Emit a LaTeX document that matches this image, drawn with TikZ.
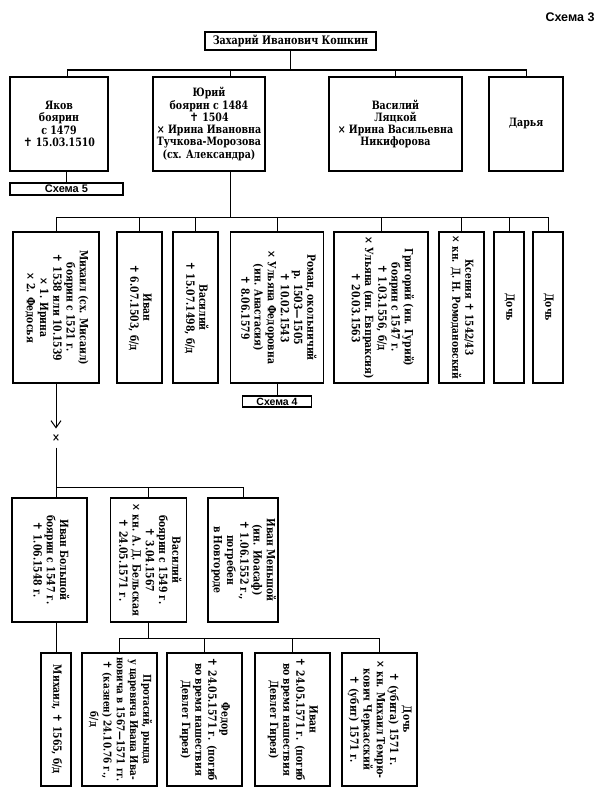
\documentclass[tikz,border=0pt]{standalone}
\usepackage{graphicx}
\usepackage{fontspec}
\setmainfont{DejaVu Serif}[FakeStretch=0.82]
\newfontfamily\sansfnt{Liberation Sans}
\newfontfamily\symfnt{DejaVu Sans}
\usetikzlibrary{
    arrows.meta
}

\newcommand{\bodyfont}{\fontsize{11.5}{12.3}\selectfont\bfseries}
\newcommand{\rootfont}{\fontsize{11.7}{14}\selectfont\bfseries}
\newcommand{\schfont}{\sansfnt\fontsize{11}{12}\selectfont\bfseries}
\newcommand{\dd}{{\symfnt\mdseries ✝}}
\newcommand{\vt}[2][11.3]{\rotatebox{-90}{\fontsize{#1}{13.2}\selectfont
    \begin{tabular}{@{}c@{}}#2\end{tabular}}}

\begin{document}
\begin{tikzpicture}[x=1pt,y=-1pt,line width=1pt,
    box/.style={draw,line width=1.3pt,inner sep=1pt,align=center,font=\bodyfont},
    ref/.style={draw,line width=1.3pt,inner sep=0pt,font=\schfont}]

\useasboundingbox (0,0) rectangle (599,800);

\node[font=\schfont\fontsize{12.5}{14}\selectfont] (title) at (570,17) {Схема 3};
\node[box,font=\rootfont,inner sep=0pt,minimum width=171,minimum height=18]
    (root) at (290.5,41) {Захарий Иванович Кошкин};

% Sons and daughter
\node[box,minimum width=98,minimum height=94] (yakov) at (59,124)
    {Яков\\боярин\\с 1479\\\dd~15.03.1510};
\node[box,minimum width=112,minimum height=94] (yuri) at (209,124)
    {Юрий\\боярин с 1484\\\dd~1504\\× Ирина Ивановна\\Тучкова-Морозова\\(сх. Александра)};
\node[box,minimum width=133,minimum height=94] (lyatskoy) at (395.5,124)
    {Василий\\Ляцкой\\× Ирина Васильевна\\Никифорова};
\node[box,minimum width=74,minimum height=94] (darya) at (526,124) {Дарья};
\node[ref,minimum width=113,minimum height=12] (sch5) at (66.5,189) {Схема 5};

\coordinate (bus1) at (0,70);
\draw (root.south) -- (root.south |- bus1);
\draw ([xshift=8]yakov.north) |- (darya.north |- bus1) -- (darya.north);
\draw ([xshift=21]yuri.north) -- ([xshift=21]yuri.north |- bus1);
\draw (lyatskoy.north) -- (lyatskoy.north |- bus1);
\draw (sch5.north) -- (sch5.north |- yakov.south);

% Children of Yuri
\node[box,minimum width=86,minimum height=151] (mikhail) at (56,307.5)
    {\vt{Михаил (сх. Мисаил)\\боярин с 1521 г.\\\dd~1538 или 10.1539\\× 1. Ирина\\× 2. Федосья}};
\node[box,minimum width=45,minimum height=151] (ivan) at (139.5,307.5)
    {\vt{Иван\\\dd~6.07.1503, б/д}};
\node[box,minimum width=45,minimum height=151] (vasily) at (195.5,307.5)
    {\vt{Василий\\\dd~15.07.1498, б/д}};
\node[box,minimum width=93,minimum height=151] (roman) at (277,307.5)
    {\vt{Роман, окольничий\\р. 1503---1505\\\dd~10.02.1543\\× Ульяна Федоровна\\(ин. Анастасия)\\\dd~8.06.1579}};
\node[box,minimum width=94,minimum height=151] (grigory) at (381,307.5)
    {\vt{Григорий (ин. Гурий)\\боярин с 1547 г.\\\dd~1.03.1556, б/д\\× Ульяна (ин. Евпраксия)\\\dd~20.03.1563}};
\node[box,minimum width=45,minimum height=151] (kseniya) at (461.5,307.5)
    {\vt[11]{Ксения \dd~1542/43\\× кн. Д. Н. Ромодановский}};
\node[box,minimum width=30,minimum height=151] (doch1) at (509,307.5) {\vt{Дочь}};
\node[box,minimum width=30,minimum height=151] (doch2) at (548,307.5) {\vt{Дочь}};
\node[ref,minimum width=69,minimum height=11,font=\schfont\fontsize{10.5}{12}\selectfont]
    (sch4) at (277,401.5) {Схема 4};

\coordinate (bus2) at (0,217);
\draw ([xshift=21]yuri.south) -- ([xshift=21]yuri.south |- bus2);
\draw (mikhail.north) |- (doch2.north |- bus2) -- (doch2.north);
\foreach \n in {ivan,vasily,roman,grigory,kseniya,doch1}{
    \draw (\n.north) -- (\n.north |- bus2);
}
\draw (roman.south) -- (sch4.north);

% Children of Mikhail
\node[font=\bodyfont,inner sep=0pt,minimum height=18] (wed) at (56,438) {×};
\draw[-{Straight Barb[length=7pt,width=10pt]}] (mikhail.south) -- (wed.north);

\node[box,minimum width=75,minimum height=124] (ivanb) at (49.5,560)
    {\vt{Иван Большой\\боярин с 1547 г.\\\dd~1.06.1548 г.}};
\node[box,minimum width=76,minimum height=124] (vasilyb) at (148.5,560)
    {\vt{Василий\\боярин с 1549 г.\\\dd~3.04.1567\\× кн. А. Д. Бельская\\\dd~24.05.1571 г.}};
\node[box,minimum width=70,minimum height=124] (ivanm) at (243,560)
    {\vt{Иван Меньшой\\(ин. Иоасаф)\\\dd~1.06.1552 г.,\\погребен\\в Новгороде}};

\coordinate (bus3) at (0,487);
\draw (wed.south) -- (wed.south |- ivanb.north);
\draw (wed.south |- bus3) -| (ivanm.north);
\draw (vasilyb.north) -- (vasilyb.north |- bus3);

% Grandchildren
\node[box,minimum width=30,minimum height=133] (mikhailm) at (56,719.5)
    {\vt{Михаил, \dd~1565, б/д}};
\node[box,minimum width=75,minimum height=133] (protasy) at (119.5,719.5)
    {\vt[10.8]{Протасий, рында\\у царевича Ивана Ива-\\новича в 1567---1571 гг.\\\dd~(казнен) 24.10.76 г.,\\б/д}};
\node[box,minimum width=75,minimum height=133] (fedor) at (204.5,719.5)
    {\vt{Федор\\\dd~24.05.1571 г. (погиб\\во время нашествия\\Девлет Гирея)}};
\node[box,minimum width=75,minimum height=133] (ivanv) at (292.5,719.5)
    {\vt{Иван\\\dd~24.05.1571 г. (погиб\\во время нашествия\\Девлет Гирея)}};
\node[box,minimum width=75,minimum height=133] (doch3) at (379.5,719.5)
    {\vt{Дочь\\\dd~(убита) 1571 г.\\× кн. Михаил Темрю-\\кович Черкасский\\\dd~(убит) 1571 г.}};

\coordinate (bus4) at (0,638);
\draw (mikhailm.north) -- (mikhailm.north |- ivanb.south);
\draw (vasilyb.south) -- (vasilyb.south |- bus4);
\draw (protasy.north) |- (doch3.north |- bus4) -- (doch3.north);
\foreach \n in {fedor,ivanv}{
    \draw (\n.north) -- (\n.north |- bus4);
}

\end{tikzpicture}
\end{document}
